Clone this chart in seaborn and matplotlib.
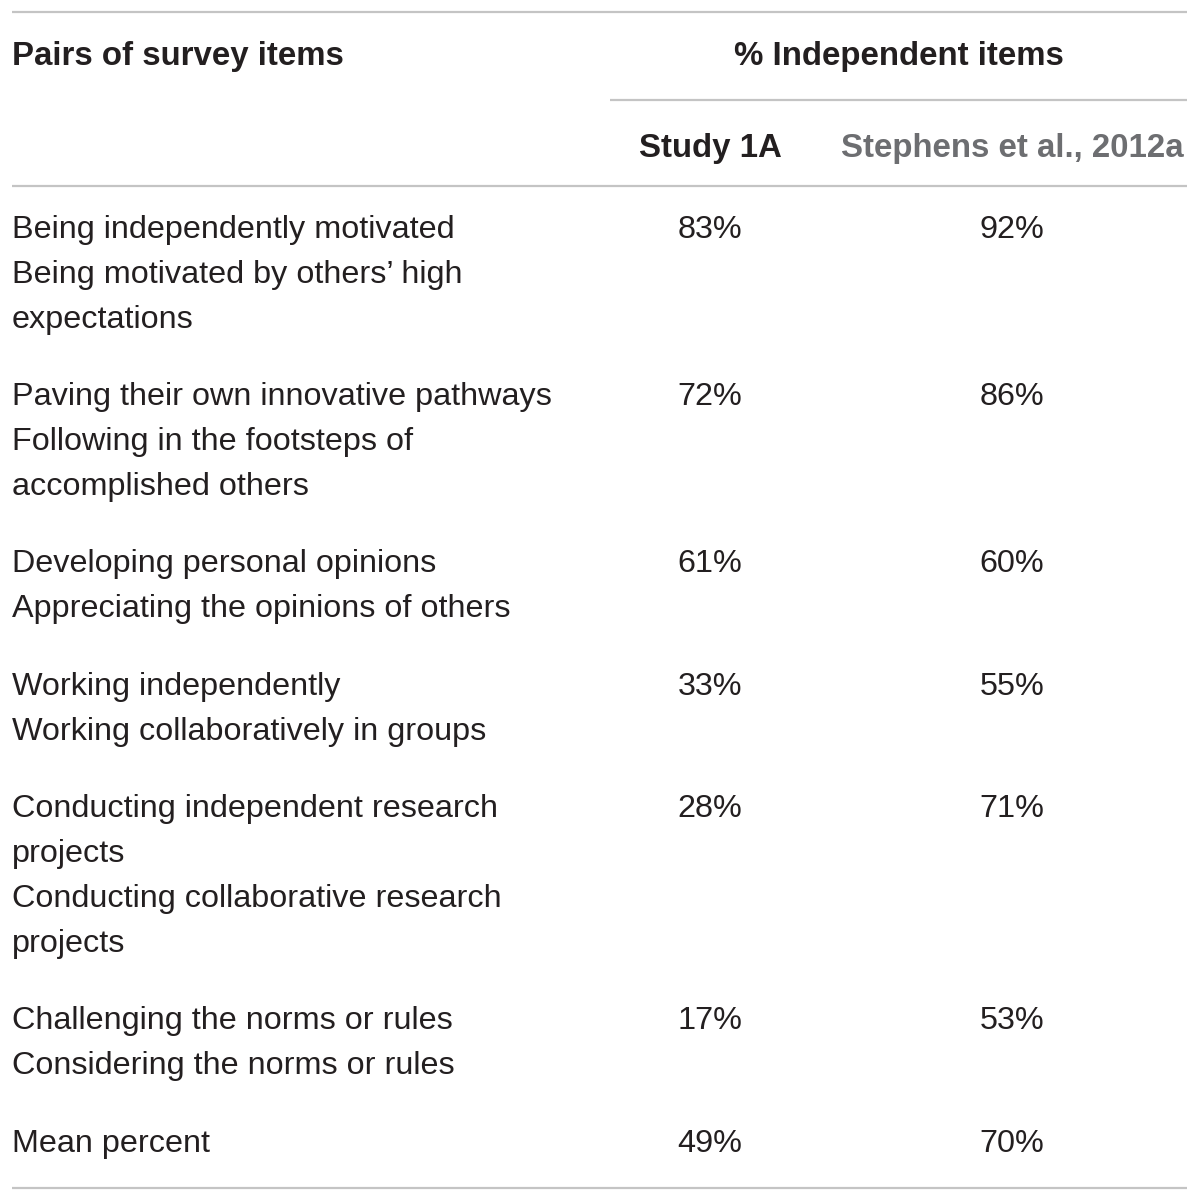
import matplotlib.pyplot as plt
import seaborn as sns

sns.set_theme(style="white")
plt.rcParams['font.family'] = ['Liberation Sans', 'DejaVu Sans']

### Table content
col_header = "Pairs of survey items"
group_header = "% Independent items"
study_labels = ["Study 1A", "Stephens et al., 2012a"]
pair_lines = [
    ["Being independently motivated", "Being motivated by others\u2019 high", "expectations"],
    ["Paving their own innovative pathways", "Following in the footsteps of", "accomplished others"],
    ["Developing personal opinions", "Appreciating the opinions of others"],
    ["Working independently", "Working collaboratively in groups"],
    ["Conducting independent research", "projects", "Conducting collaborative research", "projects"],
    ["Challenging the norms or rules", "Considering the norms or rules"],
    ["Mean percent"],
]
study_1a = [83, 72, 61, 33, 28, 17, 49]
stephens_2012a = [92, 86, 60, 55, 71, 53, 70]

W, H = 1200, 1202
text_color = '#231f20'
gray_color = '#6d6e71'
rule_color = '#c4c4c4'
fs = 23.3
fs_head = 23.8

fig = plt.figure(figsize=(W / 100, H / 100), dpi=100)
ax = fig.add_axes([0, 0, 1, 1])
ax.set_xlim(0, W)
ax.set_ylim(H, 0)
ax.axis('off')

left, right = 12, 1187
col1_x, col2_x = 710, 1012
line_h, row_gap = 44.8, 77.6

### Rules
ax.hlines([12, 186, 1188], left, right, color=rule_color, lw=1.6)
ax.hlines(100, 610, right, color=rule_color, lw=1.6)

### Headers
ax.text(left, 56, col_header, fontsize=fs_head, fontweight='bold', color=text_color, va='center', ha='left')
ax.text(899, 56, group_header, fontsize=fs_head, fontweight='bold', color=text_color, va='center', ha='center')
ax.text(col1_x, 149, study_labels[0], fontsize=fs_head, fontweight='bold', color=text_color, va='center', ha='center')
ax.text(col2_x, 149, study_labels[1], fontsize=fs_head, fontweight='bold', color=gray_color, va='center', ha='center')

### Body rows
y = 230
for lines, v1, v2 in zip(pair_lines, study_1a, stephens_2012a):
    for i, ln in enumerate(lines):
        ax.text(left, y + i * line_h, ln, fontsize=fs, color=text_color, va='center', ha='left')
    ax.text(col1_x, y, f"{v1}%", fontsize=fs, color=text_color, va='center', ha='center')
    ax.text(col2_x, y, f"{v2}%", fontsize=fs, color=text_color, va='center', ha='center')
    y += (len(lines) - 1) * line_h + row_gap

fig.savefig('out.png', dpi=100, facecolor='white')
